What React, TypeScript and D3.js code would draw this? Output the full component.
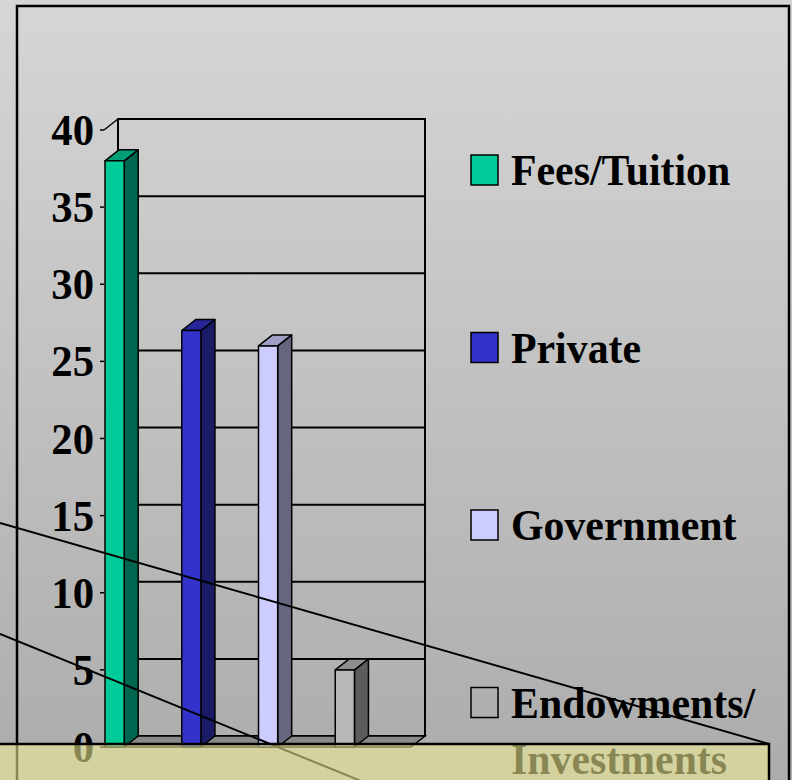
import React from "react";
import * as d3 from "d3";

// data
const series = ["Fees/Tuition", "Private", "Government", "Endowments/Investments"];
const values = [38, 27, 26, 5];
const yTicks = [0, 5, 10, 15, 20, 25, 30, 35, 40];
const legendLines = [["Fees/Tuition"], ["Private"], ["Government"], ["Endowments/", "Investments"]];
const frontColors = ["#00cc99", "#3333cc", "#ccccff", "#b8b8b8"];
const sideColors = ["#006650", "#1a1a66", "#666680", "#5c5c5c"];
const topColors = ["#009f78", "#262699", "#9f9fc6", "#8e8e8e"];
const legendFill = ["#00cc99", "#3333cc", "#ccccff", "none"];

const W = 792;
const H = 780;
const DX = 14;
const DY = -11;
const font = "'Liberation Serif', 'Times New Roman', serif";

export default function App() {
  const x = d3.scaleBand<string>().domain(series).range([104, 411]);
  const y = d3.scaleLinear().domain([0, 40]).range([747, 130]);
  const barW = x.bandwidth() * 0.25;
  const x0 = x.range()[0];
  const x1 = x.range()[1];

  const floor = [
    [x0, y(0)], [x1, y(0)], [x1 + DX, y(0) + DY], [x0 + DX, y(0) + DY],
  ];

  // callout lines (slide decoration)
  const line = d3.line();
  const callouts: [number, number][][] = [
    [[0, 523], [769, 744]],
    [[0, 634], [420, 805]],
  ];

  return (
    <svg width={W} height={H} style={{ position: "absolute", left: 0, top: 0 }}>
      <defs>
        <linearGradient id="bg" x1="0" y1="0" x2="0" y2="1">
          <stop offset="0" stopColor="#d6d6d6" />
          <stop offset="1" stopColor="#acacac" />
        </linearGradient>
      </defs>
      <rect width={W} height={H} fill="url(#bg)" />
      <rect x={17} y={6} width={772} height={820} fill="none" stroke="#000" strokeWidth={2.5} />

      {/* back wall */}
      <rect x={x0 + DX} y={y(40) + DY} width={x1 - x0} height={y(0) - y(40)}
        fill="none" stroke="#000" strokeWidth={2} />
      {yTicks.filter(t => t > 0 && t < 40).map(t => (
        <line key={t} x1={x0 + DX} x2={x1 + DX} y1={y(t) + DY} y2={y(t) + DY} stroke="#000" strokeWidth={2} />
      ))}
      <line x1={x0} y1={y(40)} x2={x0 + DX} y2={y(40) + DY} stroke="#000" strokeWidth={1.5} />

      {/* floor */}
      <path d={line(floor as [number, number][]) + "Z"} fill="#8a8a8a" stroke="#000" strokeWidth={1.5} />

      {/* bars */}
      {series.map((s, i) => {
        const bx = (x(s) as number) + 1;
        const top = y(values[i]);
        const bot = y(0);
        const side = [[bx + barW, bot], [bx + barW, top], [bx + barW + DX, top + DY], [bx + barW + DX, bot + DY]];
        const cap = [[bx, top], [bx + barW, top], [bx + barW + DX, top + DY], [bx + DX, top + DY]];
        return (
          <g key={s} stroke="#000" strokeWidth={1.5} strokeLinejoin="round">
            <path d={line(side as [number, number][]) + "Z"} fill={sideColors[i]} />
            <path d={line(cap as [number, number][]) + "Z"} fill={topColors[i]} />
            <rect x={bx} y={top} width={barW} height={bot - top} fill={frontColors[i]} />
          </g>
        );
      })}

      {/* y axis */}
      {yTicks.map(t => (
        <g key={t}>
          <line x1={100} x2={x0} y1={y(t)} y2={y(t)} stroke="#000" strokeWidth={1.5} />
          <text transform={`translate(94,${y(t) + 15}) scale(0.95,1)`} textAnchor="end"
            fontFamily={font} fontWeight="bold" fontSize={45} fill="#000">{t}</text>
        </g>
      ))}

      {/* legend */}
      {legendLines.map((lines, i) => {
        const base = 185 + i * 177.5;
        return (
          <g key={i}>
            <rect x={471} y={base - 30} width={27} height={30} fill={legendFill[i]} stroke="#000" strokeWidth={1.5} />
            {lines.map((txt, j) => (
              <text key={j} transform={`translate(511,${base + j * 56}) scale(0.93,1)`}
                fontFamily={font} fontWeight="bold" fontSize={45} fill="#000">{txt}</text>
            ))}
          </g>
        );
      })}

      {callouts.map((pts, i) => (
        <path key={i} d={line(pts) as string} fill="none" stroke="#000" strokeWidth={2} />
      ))}

      {/* translucent box at the bottom */}
      <rect x={-5} y={744} width={774} height={60} fill="rgb(242,240,150)" fillOpacity={0.56} />
      <path d="M-5,744H769V810" fill="none" stroke="#000" strokeWidth={2.5} />
    </svg>
  );
}
